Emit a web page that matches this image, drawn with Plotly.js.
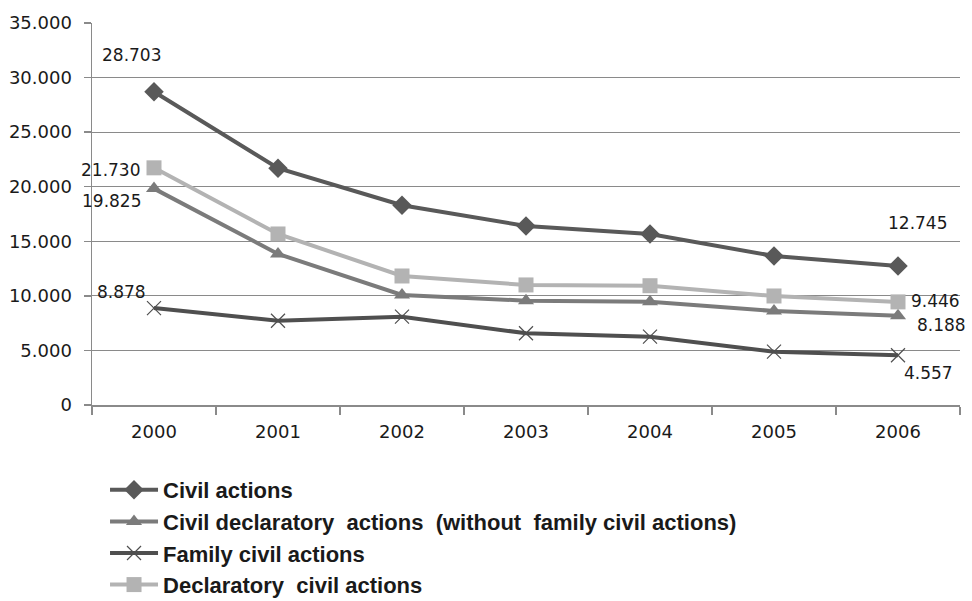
<!DOCTYPE html>
<html>
<head>
<meta charset="utf-8">
<script src="https://cdn.plot.ly/plotly-3.0.1.min.js"></script>
<style>html,body{margin:0;padding:0;background:#fff}#chart{width:972px;height:601px}</style>
</head>
<body>
<div id="chart"></div>
<script>
var years = ['2000','2001','2002','2003','2004','2005','2006'];
var civilActions = [28703, 21700, 18300, 16400, 15670, 13650, 12745];
var civilDeclaratoryNoFamily = [19825, 13840, 10080, 9560, 9470, 8610, 8188];
var familyCivil = [8878, 7720, 8090, 6570, 6260, 4890, 4557];
var declaratoryCivil = [21730, 15670, 11820, 11000, 10930, 9990, 9446];
var seriesNames = ['Civil actions', 'Civil declaratory  actions  (without  family civil actions)', 'Family civil actions', 'Declaratory  civil actions'];
var yTicks = [0, 5000, 10000, 15000, 20000, 25000, 30000, 35000];

function fmt(v){ return String(v).replace(/\B(?=(\d{3})+(?!\d))/g, '.'); }

var lineFont = 'DejaVu Sans';
function tr(y, name, color, symbol, size, group, lw){
  return {x: years, y: y, name: name, type: 'scatter', mode: 'lines+markers',
    legendgroup: group,
    line: {color: color, width: lw || 4},
    marker: {symbol: symbol, size: size, color: color, line: {color: color, width: symbol.indexOf('open')>=0 ? 1.2 : 0}},
    hoverinfo: 'skip'};
}
var data = [
  tr(civilActions, seriesNames[0], '#595959', 'diamond', 15, 'a'),
  tr(civilDeclaratoryNoFamily, seriesNames[1], '#7b7b7b', 'triangle-up', 14, 'b'),
  tr(familyCivil, seriesNames[2], '#4f4f4f', 'x-thin-open', 14, 'c'),
  tr(declaratoryCivil, seriesNames[3], '#b3b3b3', 'square', 15, 'd')
];

var first = 0, last = years.length - 1;
var labelSpecs = [
  {i: first, y: civilActions[first], xshift: -23, yshift: 37},
  {i: first, y: declaratoryCivil[first], xshift: -44, yshift: -2},
  {i: first, y: civilDeclaratoryNoFamily[first], xshift: -43, yshift: -12},
  {i: first, y: familyCivil[first], xshift: -33, yshift: 16},
  {i: last, y: civilActions[last], xshift: 19, yshift: 43},
  {i: last, y: declaratoryCivil[last], xshift: 37, yshift: 1},
  {i: last, y: civilDeclaratoryNoFamily[last], xshift: 43, yshift: -9},
  {i: last, y: familyCivil[last], xshift: 30, yshift: -18}
];
var annotations = labelSpecs.map(function(s){
  return {x: s.i, y: s.y, xref: 'x', yref: 'y', text: fmt(s.y), showarrow: false,
    xshift: s.xshift, yshift: s.yshift, font: {family: lineFont, size: 17, color: '#1a1a1a'}};
});

var layout = {
  width: 972, height: 601,
  margin: {l: 92, r: 12, t: 23, b: 196, autoexpand: false},
  paper_bgcolor: '#ffffff', plot_bgcolor: '#ffffff',
  separators: ',.',
  font: {family: lineFont, size: 17, color: '#1a1a1a'},
  showlegend: true,
  legend: {x: 0.015, y: -0.1675, xanchor: 'left', yanchor: 'top', orientation: 'v',
    tracegroupgap: 0, itemwidth: 48,
    font: {family: 'Liberation Sans, sans-serif', size: 22, color: '#1a1a1a', weight: 'bold'},
    bgcolor: 'rgba(0,0,0,0)'},
  xaxis: {type: 'category', range: [-0.5, 6.5], showgrid: false, zeroline: false,
    showline: true, linecolor: '#8a8a8a', linewidth: 1.5, automargin: false,
    ticks: 'outside', tickson: 'boundaries', ticklen: 8, tickcolor: '#8a8a8a', tickwidth: 1.5,
    ticklabelstandoff: 10, tickangle: 0, tickfont: {family: lineFont, size: 18, color: '#1a1a1a'}},
  yaxis: {range: [0, 35000], tickvals: yTicks, tickformat: ',d', automargin: false,
    showgrid: true, gridcolor: '#8a8a8a', gridwidth: 1.2, zeroline: false,
    showline: true, linecolor: '#8a8a8a', linewidth: 1.5,
    ticks: 'outside', ticklen: 7, tickcolor: '#8a8a8a', tickwidth: 1.5,
    ticklabelstandoff: 8, tickfont: {family: lineFont, size: 18, color: '#1a1a1a'}},
  annotations: annotations
};
Plotly.newPlot('chart', data, layout, {staticPlot: true});
</script>
</body>
</html>
